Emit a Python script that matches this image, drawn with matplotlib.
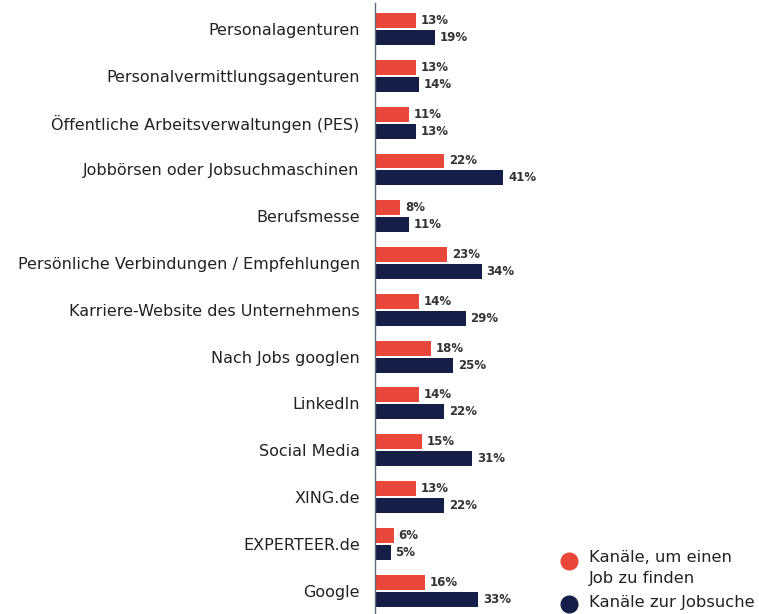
import matplotlib
matplotlib.use("Agg")
from matplotlib import pyplot as plt
from matplotlib.lines import Line2D
import numpy as np

categories = [
    "Personalagenturen",
    "Personalvermittlungsagenturen",
    "Öffentliche Arbeitsverwaltungen (PES)",
    "Jobbörsen oder Jobsuchmaschinen",
    "Berufsmesse",
    "Persönliche Verbindungen / Empfehlungen",
    "Karriere-Website des Unternehmens",
    "Nach Jobs googlen",
    "LinkedIn",
    "Social Media",
    "XING.de",
    "EXPERTEER.de",
    "Google",
]
found_job = [13, 13, 11, 22, 8, 23, 14, 18, 14, 15, 13, 6, 16]
job_search = [19, 14, 13, 41, 11, 34, 29, 25, 22, 31, 22, 5, 33]
series_names = ["Kanäle, um einen\nJob zu finden", "Kanäle zur Jobsuche"]

RED = "#e8473a"
NAVY = "#141e46"

fig = plt.figure(figsize=(7.59, 6.14), dpi=100)
ax = fig.add_axes([375 / 759, 0, 188 / 759, 611 / 614])

y = np.arange(len(categories))
h = 0.32
off = 0.18
ax.barh(y - off, found_job, height=h, color=RED)
ax.barh(y + off, job_search, height=h, color=NAVY)

for yi, v in zip(y, found_job):
    ax.text(v + 1.5, yi - off, f"{v}%", va="center", ha="left",
            fontsize=8.5, fontweight="bold", color="#333333")
for yi, v in zip(y, job_search):
    ax.text(v + 1.5, yi + off, f"{v}%", va="center", ha="left",
            fontsize=8.5, fontweight="bold", color="#333333")

ax.set_xlim(0, 60)
ax.set_ylim(12.5, -0.556)
ax.set_yticks(y)
ax.set_yticklabels(categories, fontsize=11.5, color="#222222")
ax.tick_params(axis="y", length=0, pad=11)
ax.set_xticks([])
for side in ["top", "right", "bottom"]:
    ax.spines[side].set_visible(False)
ax.spines["left"].set_color("#5a6a7a")
ax.spines["left"].set_linewidth(1)

# legend drawn by hand to match the layout of the original
W, H = 759, 614
for (cy, ty), color, name in zip([(561, 568), (604, 603)], [RED, NAVY], series_names):
    fig.add_artist(Line2D([569 / W], [1 - cy / H], transform=fig.transFigure,
                          marker="o", markersize=12, color=color, ls=""))
    fig.text(589 / W, 1 - ty / H, name, fontsize=11.8, color="#222222",
             va="center", ha="left", linespacing=1.5)

fig.savefig("out.png", dpi=100)
